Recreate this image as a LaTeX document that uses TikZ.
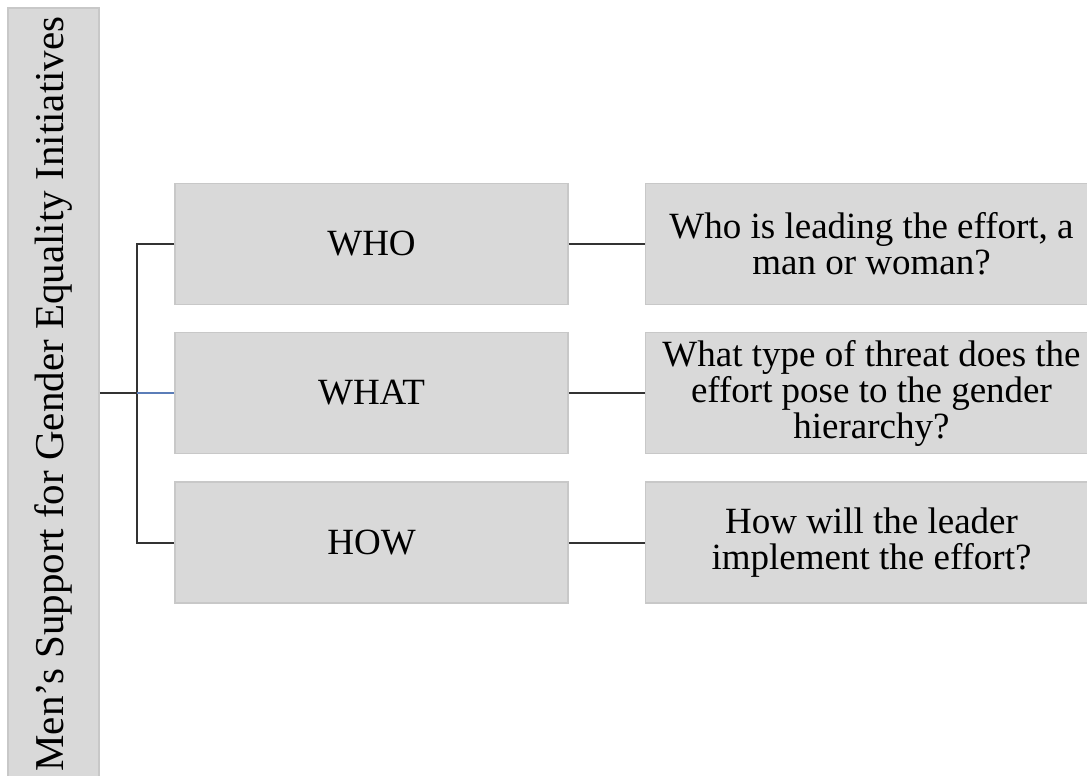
\documentclass[tikz,border=0pt]{standalone}
\usepackage{fontspec}
\setmainfont{Liberation Serif}
\usetikzlibrary{positioning}

\definecolor{boxfill}{HTML}{D9D9D9}
\definecolor{boxline}{HTML}{C8C8C8}
\definecolor{linkblue}{HTML}{5B7DB8}

\tikzset{
  box/.style={
    draw=boxline,
    fill=boxfill,
    line width=0.75pt,
    inner sep=0pt,
    align=center,
    font=\fontsize{18.5}{18}\selectfont,
  },
  topic/.style={box, minimum width=196.5pt, minimum height=60.5pt},
  question/.style={box, minimum width=226pt, minimum height=60.5pt},
  link/.style={draw=black!80, line width=1pt},
}

\begin{document}
\begin{tikzpicture}[x=0.5pt, y=-0.5pt]
\useasboundingbox (0,0) rectangle (1087,776);
\clip (0,0) rectangle (1087,776);

% title bar down the left side
\node [box, rotate=90, minimum width=386pt, minimum height=45.5pt,
  font=\fontsize{20.5}{22}\selectfont]
  (title) at (53.5,394) {Men’s Support for Gender Equality Initiatives};

% the three topics
\node [topic] (who)  at (371.5,244)   {WHO};
\node [topic] (what) at (371.5,393)   {WHAT};
\node [topic] (how)  at (371.5,542.5) {HOW};

% their questions
\node [question, right=38pt of who]  (whoq)  {Who is leading the effort, a\\man or woman?};
\node [question, right=38pt of what] (whatq) {What type of threat does the\\effort pose to the gender\\hierarchy?};
\node [question, right=38pt of how]  (howq)  {How will the leader\\implement the effort?};

% tree connectors
\coordinate (fork) at (137,393);
\draw [link] (title.south |- fork) -- (fork);
\draw [link] (who.west) -| (fork) |- (how.west);
\draw [link, draw=linkblue, line width=0.6pt] (fork) -- (what.west);
\foreach \t in {who,what,how}
  \draw [link] (\t.east) -- (\t q.west);
\end{tikzpicture}
\end{document}
